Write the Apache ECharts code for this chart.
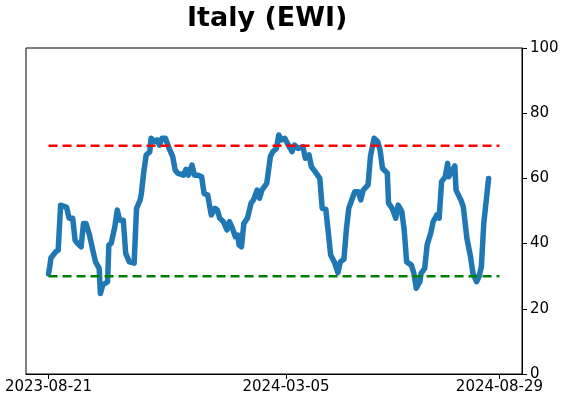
<!DOCTYPE html>
<html>
<head>
<meta charset="utf-8">
<script src="https://cdn.jsdelivr.net/npm/echarts@6/dist/echarts.min.js"></script>
<style>
  html, body { margin: 0; padding: 0; background: #fff; }
  #chart { width: 562px; height: 402px; }
</style>
</head>
<body>
<div id="chart"></div>
<script>
// 数据：起始日期 + 天数偏移，数值为读图估计
const startDate = '2023-08-21';
const tickDates = ['2023-08-21', '2024-03-05', '2024-08-29'];
const dayOffsets = [
  0, 1, 2, 6, 8, 10, 11, 15, 17, 20, 22, 24, 27, 29, 31, 34, 37, 39, 42, 43,
  45, 49, 50, 52, 55, 57, 59, 62, 64, 67, 71, 73, 76, 77, 79, 81, 84, 85, 88, 90,
  92, 94, 97, 100, 103, 105, 107, 112, 114, 116, 119, 121, 124, 127, 129, 132, 135, 138, 140, 142,
  145, 148, 150, 152, 155, 157, 158, 160, 162, 165, 168, 170, 173, 175, 177, 181, 184, 186, 189, 191,
  193, 196, 198, 202, 204, 207, 211, 213, 216, 218, 222, 225, 227, 230, 234, 237, 240, 242, 245, 247,
  249, 252, 254, 257, 259, 261, 265, 267, 270, 273, 275, 277, 281, 282, 285, 288, 290, 293, 295, 297,
  301, 303, 305, 308, 309, 312, 314, 317, 319, 322, 324, 326, 329, 331, 332, 335, 337, 338, 342, 344,
  347, 350, 352, 355, 357, 359, 361, 365
];
const ewiValues = [
  30.7, 32.9, 35.6, 37.5, 38, 51.8, 52.4, 51.1, 47.8, 47.8, 41.1, 40.1, 39, 46.2, 46.2, 42.6, 37.5, 34.4, 32.4, 24.7,
  27.3, 28.3, 39.6, 40.1, 45.2, 50.3, 47.2, 47.2, 37, 34.4, 34, 50.8, 53.4, 55.4, 62, 67.2, 68.2, 72.3, 71.3, 71.8,
  70.2, 72.3, 72.3, 69.2, 66.7, 62.6, 61.6, 61, 62.8, 61, 64.1, 61, 61, 60.5, 55.4, 54.9, 48.8, 50.8, 50.3, 47.8,
  46.7, 44.2, 46.7, 45.2, 42.1, 42.6, 39.6, 39, 46.2, 47.8, 52.4, 53.4, 56.4, 53.9, 56.4, 58.5, 66.7, 68.2, 69.2, 73.3,
  71.8, 72.3, 70.8, 68.2, 70.2, 69.2, 69.7, 66.2, 67.2, 63.6, 61.6, 60, 50.8, 50.5, 36.5, 34.4, 31.1, 34.4, 35.2, 44.2,
  50.8, 53.9, 55.9, 55.9, 53.4, 56.4, 58, 66.7, 72.3, 71.3, 68.7, 63.1, 61.6, 52.4, 50.8, 47.8, 51.8, 49.8, 44.2, 34.4,
  33.4, 30.9, 26.3, 28.3, 30.9, 32.4, 39.6, 43.2, 46.7, 48.8, 47.8, 59, 60.5, 64.6, 60.5, 62.6, 63.8, 56.4, 53.4, 51.3,
  41.6, 36, 30.9, 28.3, 29.8, 32.9, 46.2, 60
];
const upperLevel = 70;
const lowerLevel = 30;
const yTicks = [0, 20, 40, 60, 80, 100];

const DAY = 86400000;
const toTs = (s) => {
  const p = s.split('-').map(Number);
  return Date.UTC(p[0], p[1] - 1, p[2]);
};
const fmt = (ts) => new Date(ts).toISOString().slice(0, 10);

const t0 = toTs(startDate);
const tickTs = tickDates.map(toTs);
const spanStart = tickTs[0];
const spanEnd = tickTs[tickTs.length - 1];
const pad = (spanEnd - spanStart) * 0.05;
const lineData = dayOffsets.map((d, i) => [t0 + d * DAY, ewiValues[i]]);

const chart = echarts.init(document.getElementById('chart'), null, { renderer: 'canvas' });
const font = 'DejaVu Sans';

chart.setOption({
  animation: false,
  title: {
    text: 'Italy (EWI)',
    left: 182,
    top: 0,
    textStyle: { fontFamily: font, fontWeight: 'bold', fontSize: 27, color: '#000' }
  },
  grid: {
    left: 26, right: 40, top: 48, bottom: 28,
    show: true, borderColor: '#000', borderWidth: 1, backgroundColor: 'transparent'
  },
  xAxis: {
    type: 'value',
    min: spanStart - pad,
    max: spanEnd + pad,
    splitLine: { show: false },
    axisLine: { show: true, lineStyle: { color: '#000', width: 1 } },
    axisTick: { show: true, length: 5, customValues: tickTs, lineStyle: { color: '#000' } },
    axisLabel: {
      customValues: tickTs,
      formatter: (v) => fmt(v),
      fontFamily: font, fontSize: 15, color: '#000', margin: 6,
      hideOverlap: false, showMinLabel: true, showMaxLabel: true
    }
  },
  yAxis: {
    type: 'value',
    position: 'right',
    min: yTicks[0],
    max: yTicks[yTicks.length - 1],
    interval: 20,
    splitLine: { show: false },
    axisLine: { show: true, lineStyle: { color: '#000', width: 1 } },
    axisTick: { show: true, length: 5, lineStyle: { color: '#000' } },
    axisLabel: { fontFamily: font, fontSize: 15, color: '#000', margin: 8 }
  },
  series: [
    {
      type: 'line',
      data: lineData,
      symbol: 'none',
      lineStyle: { color: '#1f77b4', width: 5.5, join: 'round', cap: 'round' },
      z: 2
    },
    {
      type: 'line',
      data: [[spanStart, upperLevel], [spanEnd, upperLevel]],
      symbol: 'none',
      lineStyle: { color: '#ff0000', width: 2.5, type: [9, 5] },
      z: 3
    },
    {
      type: 'line',
      data: [[spanStart, lowerLevel], [spanEnd, lowerLevel]],
      symbol: 'none',
      lineStyle: { color: '#008000', width: 2.5, type: [9, 5] },
      z: 3
    }
  ]
});
</script>
</body>
</html>
